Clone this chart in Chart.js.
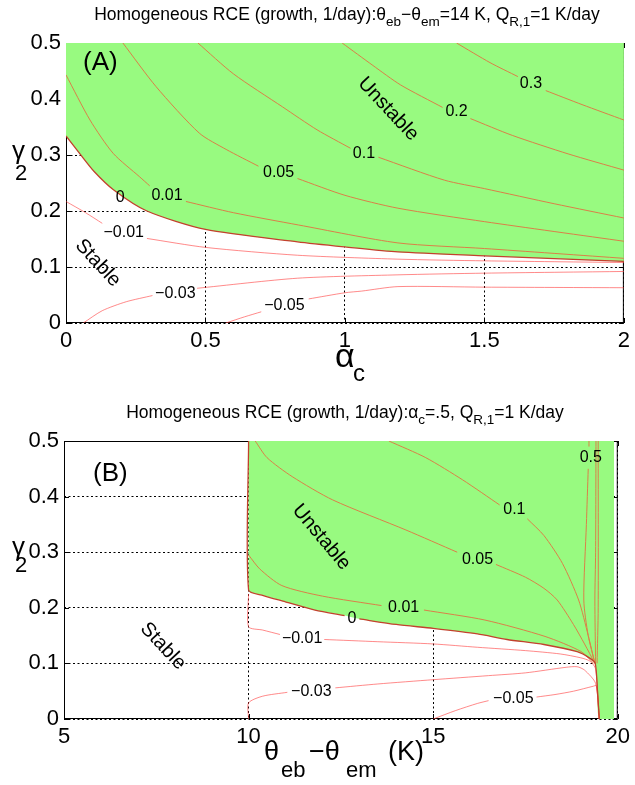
<!DOCTYPE html>
<html>
<head>
<meta charset="utf-8">
<script src="https://cdn.jsdelivr.net/npm/chart.js@4.4.0/dist/chart.umd.min.js"></script>
<style>
  html, body { margin: 0; padding: 0; background: #fff; }
  #wrap { position: relative; width: 635px; height: 785px; }
  canvas { position: absolute; left: 0; }
  #chartA { top: 0; }
  #chartB { top: 395px; }
</style>
</head>
<body>
<div id="wrap">
  <canvas id="chartA" width="635" height="395"></canvas>
  <canvas id="chartB" width="635" height="390"></canvas>
</div>
<script>
const FONT = '"Liberation Sans", Arial, Helvetica, sans-serif';
const GREEN = 'rgb(152,250,128)';
const LINE_GREEN = 'rgb(218,128,72)';
const LINE_WHITE = 'rgba(255,60,60,0.6)';
const LINE_ZERO = 'rgb(195,65,45)';

// tick values / labels
const alphaTicks = [0, 0.5, 1, 1.5, 2];
const alphaTickLabels = ['0', '0.5', '1', '1.5', '2'];
const gammaTicks = [0, 0.1, 0.2, 0.3, 0.4, 0.5];
const gammaTickLabels = ['0', '0.1', '0.2', '0.3', '0.4', '0.5'];
const dThetaTicks = [5, 10, 15, 20];
const dThetaTickLabels = ['5', '10', '15', '20'];

// Panel A contours of growth rate, points are [alpha_c, gamma_2]
// null = break in the line where the label sits
const aZero = [[0, 0.334], [0.05, 0.302], [0.1, 0.271], [0.17, 0.238], [0.29, 0.2], [0.5, 0.167],
  [0.83, 0.145], [1.0, 0.136], [1.19, 0.127], [1.5, 0.12], [2, 0.11]];
const aM001 = [[0, 0.217], [0.07, 0.197], [0.13, 0.178], null, [0.29, 0.151], [0.5, 0.135],
  [0.83, 0.121], [1.19, 0.114], [1.5, 0.111], [2, 0.108]];
const aM003 = [[0.062, 0], [0.13, 0.022], [0.216, 0.038], [0.31, 0.049], null, [0.47, 0.062],
  [0.83, 0.08], [1.19, 0.086], [1.5, 0.089], [2, 0.092]];
const aM005 = [[0.573, 0], [0.64, 0.011], [0.7, 0.02], null, [0.87, 0.043], [1.0, 0.054],
  [1.06, 0.057], [1.19, 0.065], [1.5, 0.064], [2, 0.063]];
const aP001 = [[0, 0.443], [0.086, 0.3625], [0.169, 0.303], [0.264, 0.261], [0.3, 0.245], null,
  [0.43, 0.217], [0.6, 0.197], [0.834, 0.175], [1.19, 0.143], [1.5, 0.133], [2, 0.1155]];
const aP005 = [[0.204, 0.5], [0.323, 0.422], [0.478, 0.339], [0.574, 0.31], [0.69, 0.28], null,
  [0.83, 0.258], [1.0, 0.228], [1.19, 0.205], [1.5, 0.181], [2, 0.146]];
const aP01 = [[0.473, 0.5], [0.6, 0.445], [0.776, 0.386], [0.9, 0.345], [1.02, 0.312], null,
  [1.12, 0.296], [1.357, 0.255], [1.5, 0.24], [1.75, 0.213], [2, 0.1875]];
const aP02 = [[0.99, 0.5], [1.1, 0.46], [1.2, 0.425], [1.35, 0.385], null,
  [1.45, 0.365], [1.6, 0.335], [1.8, 0.302], [2, 0.273]];
const aP03 = [[1.4, 0.5], [1.52, 0.465], [1.62, 0.44], null, [1.72, 0.415], [1.85, 0.39], [2, 0.3625]];

// Panel B contours, points are [theta_eb - theta_em (K), gamma_2]
const bZero = [[10, 0.5], [10, 0.232], [10.4, 0.222], [10.93, 0.212], [11.8, 0.196], [12.6, 0.186], null,
  [13.0, 0.18], [14, 0.17], [15, 0.163], [16.2, 0.153], [17, 0.143], [18, 0.134], [18.9, 0.121],
  [19.25, 0.109], [19.39, 0.1], [19.45, 0.05], [19.5, 0]];
const bGreenEdge = [[19.9, 0]];
const bM001 = [[10, 0.225], [10, 0.166], [10.38, 0.16], [10.85, 0.152], null, [12.05, 0.143],
  [13.5, 0.139], [15, 0.135], [16.2, 0.129], [17.5, 0.123], [18.44, 0.117], [19.0, 0.11],
  [19.25, 0.104], [19.4, 0.09], [19.5, 0]];
const bM003 = [[10, 0], [10, 0.029], [10.38, 0.041], [11.05, 0.048], null, [12.35, 0.056],
  [13.5, 0.063], [15, 0.0707], [16.5, 0.078], [17.5, 0.083], [18.6, 0.093], [18.9, 0.094],
  [19.1, 0.088], [19.4, 0.064], [19.5, 0]];
const bM005 = [[15.0, 0], [15.6, 0.015], [16.2, 0.028], [16.5, 0.033], null, [17.8, 0.0395],
  [18.3, 0.044], [18.8, 0.05], [19.34, 0.059], [19.42, 0.06], [19.5, 0]];
const bP001 = [[10, 0.295], [10.3, 0.27], [10.9, 0.24], [12, 0.221], [13.6, 0.204], null,
  [14.75, 0.196], [16.4, 0.178], [18.03, 0.1485], [19.0, 0.1216], [19.35, 0.1]];
const bP005 = [[10.18, 0.5], [10.5, 0.47], [11.18, 0.436], [12.28, 0.394], [14.26, 0.34], [15.65, 0.3], null,
  [16.7, 0.278], [17.5, 0.255], [18.0, 0.235], [18.36, 0.214], [18.8, 0.17], [19.1, 0.135], [19.38, 0.1]];
const bP01 = [[13.8, 0.5], [14.8, 0.47], [15.8, 0.43], [16.8, 0.385], null, [17.55, 0.36],
  [18.0, 0.33], [18.5, 0.28], [18.94, 0.214], [19.2, 0.15], [19.38, 0.1]];
const bP05 = [[19.22, 0.5], [19.22, 0.49], null, [19.2, 0.45], [19.15, 0.35], [19.08, 0.214],
  [19.2, 0.15], [19.38, 0.1]];
const bP1 = [[19.41, 0.5], [19.4, 0.3], [19.38, 0.214], [19.4, 0.1]];
const bP2 = [[19.47, 0.5], [19.47, 0.2], [19.44, 0.1]];

// contour labels [text, x, y]
const labelsA = [['0.3', 1.667, 0.428], ['0.2', 1.40, 0.377], ['0.1', 1.068, 0.303], ['0.05', 0.762, 0.268],
  ['0.01', 0.362, 0.228], ['0', 0.194, 0.224], ['\u22120.01', 0.207, 0.162], ['\u22120.03', 0.392, 0.053],
  ['\u22120.05', 0.783, 0.031]];
const labelsB = [['0.5', 19.27, 0.47], ['0.1', 17.2, 0.376], ['0.05', 16.2, 0.286], ['0.01', 14.2, 0.201],
  ['0', 12.8, 0.18], ['\u22120.01', 11.45, 0.145], ['\u22120.03', 11.7, 0.05], ['\u22120.05', 17.17, 0.037]];
// region labels [text, x, y, angle]
const regionsA = [['Unstable', 1.155, 0.382, 47], ['Stable', 0.114, 0.107, 47]];
const regionsB = [['Unstable', 11.97, 0.327, 50], ['Stable', 7.68, 0.131, 47]];

function toPts(arr) {
  return arr.map(p => p ? { x: p[0], y: p[1] } : { x: null, y: null });
}

function contour(arr, color, width) {
  return {
    data: toPts(arr), showLine: true, borderColor: color, borderWidth: width || 1,
    pointRadius: 0, tension: 0.25, fill: false, order: 1
  };
}

function greenFill(arr) {
  return {
    data: toPts(arr.filter(p => p)), showLine: true, borderWidth: 0, borderColor: 'rgba(0,0,0,0)',
    backgroundColor: GREEN, fill: 'end', pointRadius: 0, tension: 0.25, order: 5
  };
}

function drawRich(ctx, parts, x, y, align) {
  let w = 0;
  parts.forEach(p => { ctx.font = p[1] + 'px ' + FONT; w += ctx.measureText(p[0]).width; });
  let cx = align === 'center' ? x - w / 2 : x;
  ctx.textAlign = 'left';
  ctx.textBaseline = 'alphabetic';
  parts.forEach(p => {
    ctx.font = p[1] + 'px ' + FONT;
    ctx.fillText(p[0], cx, y + (p[2] || 0));
    cx += ctx.measureText(p[0]).width;
  });
}

function text(ctx, s, x, y, size) {
  ctx.font = size + 'px ' + FONT;
  ctx.textAlign = 'left';
  ctx.textBaseline = 'alphabetic';
  ctx.fillText(s, x, y);
}

// frame + inward tick marks, drawn under the filled contours like MATLAB does
const framePlugin = {
  id: 'frame',
  beforeDatasetsDraw(chart) {
    const { ctx, chartArea: a, scales } = chart;
    ctx.save();
    ctx.strokeStyle = '#000';
    ctx.lineWidth = 1;
    ctx.strokeRect(a.left + 0.5, a.top + 0.5, a.right - a.left - 1, a.bottom - a.top - 1);
    ctx.beginPath();
    scales.y.ticks.forEach(t => {
      const py = Math.round(scales.y.getPixelForValue(t.value)) + 0.5;
      ctx.moveTo(a.left, py); ctx.lineTo(a.left + 5, py);
      ctx.moveTo(a.right, py); ctx.lineTo(a.right - 5, py);
    });
    scales.x.ticks.forEach(t => {
      const px = Math.round(scales.x.getPixelForValue(t.value)) + 0.5;
      ctx.moveTo(px, a.bottom); ctx.lineTo(px, a.bottom - 5);
      ctx.moveTo(px, a.top); ctx.lineTo(px, a.top + 5);
    });
    ctx.stroke();
    ctx.restore();
  }
};

function labelPlugin(labels, regions, letter) {
  return {
    id: 'labels',
    afterDatasetsDraw(chart) {
      const { ctx, scales } = chart;
      ctx.save();
      ctx.fillStyle = '#000';
      ctx.font = '16px ' + FONT;
      ctx.textAlign = 'center';
      ctx.textBaseline = 'middle';
      labels.forEach(l => {
        ctx.fillText(l[0], scales.x.getPixelForValue(l[1]), scales.y.getPixelForValue(l[2]));
      });
      ctx.font = '20px ' + FONT;
      regions.forEach(r => {
        ctx.save();
        ctx.translate(scales.x.getPixelForValue(r[1]), scales.y.getPixelForValue(r[2]));
        ctx.rotate(r[3] * Math.PI / 180);
        ctx.fillText(r[0], 0, 0);
        ctx.restore();
      });
      text(ctx, letter[0], letter[1], letter[2], 26);
      ctx.restore();
    }
  };
}

function outerPlugin(draw) {
  return { id: 'outer', afterDraw(chart) { const ctx = chart.ctx; ctx.save(); ctx.fillStyle = '#000'; draw(ctx); ctx.restore(); } };
}

function axis(min, max, ticks, tickLabels, size, fit) {
  return {
    type: 'linear', min, max,
    afterBuildTicks: s => { s.ticks = ticks.map(v => ({ value: v })); },
    afterFit: fit,
    ticks: {
      callback: (v, i) => tickLabels[i], font: { family: FONT, size: size }, color: '#000',
      padding: 5, maxRotation: 0, autoSkip: false
    },
    grid: { color: '#000', lineWidth: 1, drawTicks: false },
    border: { display: false, dash: [2, 2.5] }
  };
}

function baseOptions(xAxis, yAxis, pad) {
  return {
    responsive: false, animation: false, events: [],
    layout: { padding: pad },
    plugins: { legend: { display: false }, tooltip: { enabled: false }, title: { display: false } },
    scales: { x: xAxis, y: yAxis }
  };
}

// ---- Panel A ----
const xA = axis(0, 2, alphaTicks, alphaTickLabels, 22, s => { s.height = 72; });
xA.ticks.padding = 5;
const yA = axis(0, 0.5, gammaTicks, gammaTickLabels, 22, s => { s.width = 66; });

new Chart(document.getElementById('chartA'), {
  type: 'scatter',
  data: {
    datasets: [
      contour(aZero, LINE_ZERO, 1.3),
      contour(aP001, LINE_GREEN), contour(aP005, LINE_GREEN), contour(aP01, LINE_GREEN),
      contour(aP02, LINE_GREEN), contour(aP03, LINE_GREEN),
      contour(aM001, LINE_WHITE), contour(aM003, LINE_WHITE), contour(aM005, LINE_WHITE),
      greenFill(aZero)
    ]
  },
  options: baseOptions(xA, yA, { top: 43, right: 8, left: 0, bottom: 0 }),
  plugins: [framePlugin, labelPlugin(labelsA, regionsA, ['(A)', 83, 70]), outerPlugin(ctx => {
    drawRich(ctx, [['Homogeneous RCE (growth, 1/day):', 17.5], ['\u03b8', 17.5], ['eb', 13.5, 6],
      ['\u2212\u03b8', 17.5], ['em', 13.5, 6], ['=14 K, Q', 17.5], ['R,1', 13.5, 6], ['=1 K/day', 17.5]], 347, 20, 'center');
    text(ctx, '\u03b1', 335, 367, 34);
    text(ctx, 'c', 353, 381, 24);
    text(ctx, '\u03b3', 12, 159, 26);
    text(ctx, '2', 15, 180, 22);
  })]
});

// ---- Panel B ----
const xB = axis(5, 20, dThetaTicks, dThetaTickLabels, 22, s => { s.height = 66; });
xB.ticks.padding = 5;
const yB = axis(0, 0.5, gammaTicks, gammaTickLabels, 22, s => { s.width = 64; });

new Chart(document.getElementById('chartB'), {
  type: 'scatter',
  data: {
    datasets: [
      contour(bZero, LINE_ZERO, 1.3),
      contour(bP001, LINE_GREEN), contour(bP005, LINE_GREEN), contour(bP01, LINE_GREEN),
      contour(bP05, LINE_GREEN), contour(bP1, LINE_GREEN), contour(bP2, LINE_GREEN),
      contour(bM001, LINE_WHITE), contour(bM003, LINE_WHITE), contour(bM005, LINE_WHITE),
      greenFill(bZero.concat(bGreenEdge))
    ]
  },
  options: baseOptions(xB, yB, { top: 46, right: 14, left: 0, bottom: 0 }),
  plugins: [framePlugin, labelPlugin(labelsB, regionsB, ['(B)', 93, 86]), outerPlugin(ctx => {
    drawRich(ctx, [['Homogeneous RCE (growth, 1/day):', 17.5], ['\u03b1', 17.5], ['c', 13.5, 6],
      ['=.5, Q', 17.5], ['R,1', 13.5, 6], ['=1 K/day', 17.5]], 345, 23, 'center');
    text(ctx, '\u03b8', 264, 365, 27);
    text(ctx, 'eb', 281, 382, 22);
    text(ctx, '\u2212\u03b8', 309, 365, 27);
    text(ctx, 'em', 346, 382, 22);
    text(ctx, '(K)', 388, 365, 27);
    text(ctx, '\u03b3', 12, 160, 26);
    text(ctx, '2', 15, 177, 22);
  })]
});
</script>
</body>
</html>
